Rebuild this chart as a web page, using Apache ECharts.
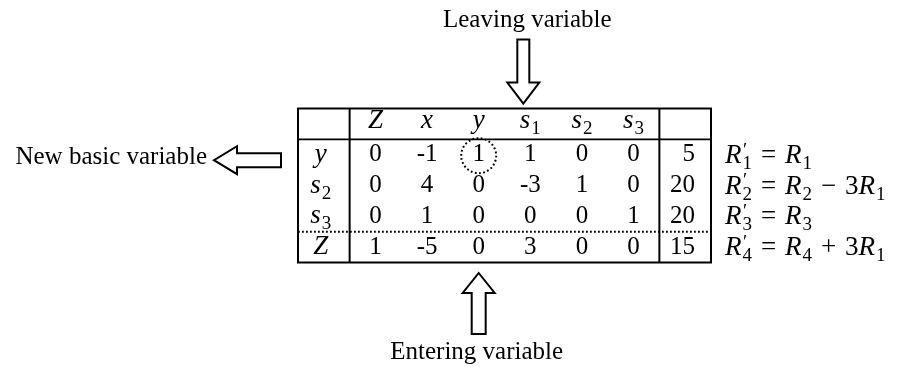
<!DOCTYPE html>
<html><head><meta charset="utf-8">
<script src="https://cdn.jsdelivr.net/npm/echarts@6/dist/echarts.min.js"></script>
<style>html,body{margin:0;padding:0;background:#fff}#c{width:900px;height:367px}</style>
</head><body><div id="c"></div>
<script>
// ---- data ----
const colKeys   = ['basis', 'Z', 'x', 'y', 's_1', 's_2', 's_3', 'rhs'];
const colHeads  = ['', 'Z', 'x', 'y', 's_1', 's_2', 's_3', ''];
const rowKeys   = ['head', 'y', 's_2', 's_3', 'Z'];
const basisVars = ['y', 's_2', 's_3', 'Z'];
const rowY  = [0, -1, 1, 1, 0, 0];
const rowS2 = [0, 4, 0, -3, 1, 0];
const rowS3 = [0, 1, 0, 0, 0, 1];
const rowZ  = [1, -5, 0, 3, 0, 0];
const rhs   = [5, 20, 20, 15];
const rowOps = ["R'_1 = R_1", "R'_2 = R_2 - 3R_1", "R'_3 = R_3", "R'_4 = R_4 + 3R_1"];
const enteringVar = 'y';
const leavingVar = 's_1';
const newBasicRow = 1;
const leavingLabel = 'Leaving variable';
const enteringLabel = 'Entering variable';
const newBasicLabel = 'New basic variable';

// ---- styles ----
const SERIF = '"Liberation Serif", "Times New Roman", serif';
const MATH = 27, NUM = 25, LABEL = 25;
const ctx = document.createElement('canvas').getContext('2d');
function measure(t, size, italic) {
  ctx.font = (italic ? 'italic ' : '') + size + 'px ' + SERIF;
  return ctx.measureText(t).width;
}
function txt(t, x, y, size, italic, align) {
  return {type: 'text', style: {text: t, x: x, y: y, fontSize: size, fontFamily: SERIF,
    fontStyle: italic ? 'italic' : 'normal', fill: '#000', align: align || 'left', verticalAlign: 'middle'}};
}
function tokens(str) {
  const out = []; let i = 0;
  while (i < str.length) {
    const ch = str[i];
    if (/[A-Za-z]/.test(ch)) {
      const tk = {kind: 'var', t: ch, prime: false, sub: null}; i++;
      if (str[i] === "'") { tk.prime = true; i++; }
      if (str[i] === '_') { tk.sub = str[i + 1]; i += 2; }
      out.push(tk);
    } else if (ch === ' ') { i++; }
    else if ('=+-'.indexOf(ch) >= 0) { out.push({kind: 'op', t: ch === '-' ? '\u2212' : ch}); i++; }
    else { out.push({kind: 'num', t: ch}); i++; }
  }
  return out;
}
function mathText(str, size, x0, y, align, opGap) {
  const ss = Math.round(size * 0.72);
  const gap = opGap == null ? 0.28 : opGap;
  const els = []; let x = 0;
  tokens(str).forEach(tk => {
    if (tk.kind === 'var') {
      els.push([tk.t, x, 0, size, true]);
      x += measure(tk.t, size, true);
      let w2 = 0;
      if (tk.prime) { els.push(['\u2032', x + 1.5, -5, ss, false]); w2 = Math.max(w2, measure('\u2032', ss) + 1.5); }
      if (tk.sub) { els.push([tk.sub, x + 1, size * 0.3, ss, false]); w2 = Math.max(w2, measure(tk.sub, ss) + 1); }
      x += w2;
    } else if (tk.kind === 'op') {
      x += size * gap;
      els.push([tk.t, x, 0, size, false]);
      x += measure(tk.t, size) + size * gap;
    } else {
      els.push([tk.t, x, 0, size, false]);
      x += measure(tk.t, size);
    }
  });
  const shift = align === 'center' ? -x / 2 : (align === 'right' ? -x : 0);
  return els.map(e => txt(e[0], x0 + e[1] + shift, y + e[2], e[3], e[4]));
}

// ---- cells ----
const bodyRows = [rowY, rowS2, rowS3, rowZ];
const cells = [];
colHeads.forEach((h, c) => { if (h) cells.push({c: c, r: 0, text: h, math: true}); });
basisVars.forEach((b, i) => {
  cells.push({c: 0, r: i + 1, text: b, math: true});
  bodyRows[i].forEach((v, j) => cells.push({c: j + 1, r: i + 1, text: String(v)}));
  cells.push({c: 7, r: i + 1, text: String(rhs[i]), rhs: true});
});

const chart = echarts.init(document.getElementById('c'), null, {renderer: 'canvas'});
chart.setOption({
  animation: false,
  grid: {left: 298, top: 108.5, width: 413, height: 154, show: true, borderColor: '#000', borderWidth: 2,
    backgroundColor: 'transparent', containLabel: false, outerBoundsMode: 'none'},
  xAxis: {type: 'category', data: colKeys, show: false, boundaryGap: true},
  yAxis: {type: 'category', data: rowKeys, show: false, inverse: true, boundaryGap: true},
  series: [
    {
      type: 'custom', clip: false, silent: true,
      data: cells.map(d => [d.c, d.r]),
      renderItem: function (params, api) {
        const cell = cells[params.dataIndex];
        const p = api.coord([api.value(0), api.value(1)]);
        const s = api.size([1, 1]);
        let children;
        const dy = cell.r === 0 ? -3 : 0;
        if (cell.math) children = mathText(cell.text, MATH, p[0] - (cell.c === 0 ? 3 : 0), p[1] + dy, 'center');
        else if (cell.rhs) children = [txt(cell.text, p[0] + s[0] / 2 - 16, p[1], NUM, false, 'right')];
        else children = [txt(cell.text, p[0], p[1], NUM, false, 'center')];
        return {type: 'group', children: children};
      }
    },
    {
      type: 'custom', clip: false, silent: true,
      data: [[0, 0]],
      renderItem: function (params, api) {
        const s = api.size([1, 1]);
        const c00 = api.coord([0, 0]);
        const L = c00[0] - s[0] / 2, T = c00[1] - s[1] / 2;
        const R = L + s[0] * colKeys.length, B = T + s[1] * rowKeys.length;
        const xb = i => L + s[0] * (i + 1);
        const yb = i => T + s[1] * (i + 1);
        const ch = [];
        const solid = {stroke: '#000', lineWidth: 2};
        ch.push({type: 'line', shape: {x1: xb(0), y1: T, x2: xb(0), y2: B}, style: solid});
        ch.push({type: 'line', shape: {x1: xb(6), y1: T, x2: xb(6), y2: B}, style: solid});
        ch.push({type: 'line', shape: {x1: L, y1: yb(0), x2: R, y2: yb(0)}, style: {stroke: '#000', lineWidth: 1.7}});
        ch.push({type: 'line', shape: {x1: L, y1: yb(3), x2: R, y2: yb(3)},
          style: {stroke: '#000', lineWidth: 2, lineDash: [1.8, 2.2]}});
        // pivot circle
        const ec = colKeys.indexOf(enteringVar);
        const pv = api.coord([ec, newBasicRow]);
        ch.push({type: 'circle', shape: {cx: pv[0], cy: pv[1] + 1, r: 17.5},
          style: {fill: 'none', stroke: '#000', lineWidth: 2, lineDash: [1.8, 2.4]}});
        const arrowStyle = {fill: '#fff', stroke: '#000', lineWidth: 2};
        // leaving arrow (down)
        const lx = api.coord([colKeys.indexOf(leavingVar), 0])[0] - 7;
        const lt = T - 5;
        ch.push({type: 'polygon', shape: {points: [[lx - 6, lt - 64], [lx + 6, lt - 64], [lx + 6, lt - 21],
          [lx + 16, lt - 21], [lx, lt], [lx - 16, lt - 21], [lx - 6, lt - 21]]}, style: arrowStyle});
        ch.push(txt(leavingLabel, lx + 4, lt - 83, LABEL, false, 'center'));
        // entering arrow (up)
        const ex = pv[0];
        const et = B + 10.5;
        ch.push({type: 'polygon', shape: {points: [[ex - 7, et + 61], [ex + 7, et + 61], [ex + 7, et + 20],
          [ex + 16, et + 20], [ex, et], [ex - 16, et + 20], [ex - 7, et + 20]]}, style: arrowStyle});
        ch.push(txt(enteringLabel, ex - 2, et + 79, LABEL, false, 'center'));
        // new basic variable arrow (left)
        const ny = pv[1] + 5.5;
        const nt = L - 84;
        ch.push({type: 'polygon', shape: {points: [[L - 17, ny - 7], [L - 17, ny + 7], [nt + 23, ny + 7],
          [nt + 23, ny + 14], [nt, ny], [nt + 23, ny - 14], [nt + 23, ny - 7]]}, style: arrowStyle});
        ch.push(txt(newBasicLabel, nt - 7, ny - 3, LABEL, false, 'right'));
        // row operations
        rowOps.forEach((op, i) => {
          const rc = api.coord([0, i + 1])[1];
          mathText(op, MATH, R + 14, rc + 1, 'left', 0.33).forEach(e => ch.push(e));
        });
        return {type: 'group', children: ch};
      }
    }
  ]
});
</script>
</body></html>
